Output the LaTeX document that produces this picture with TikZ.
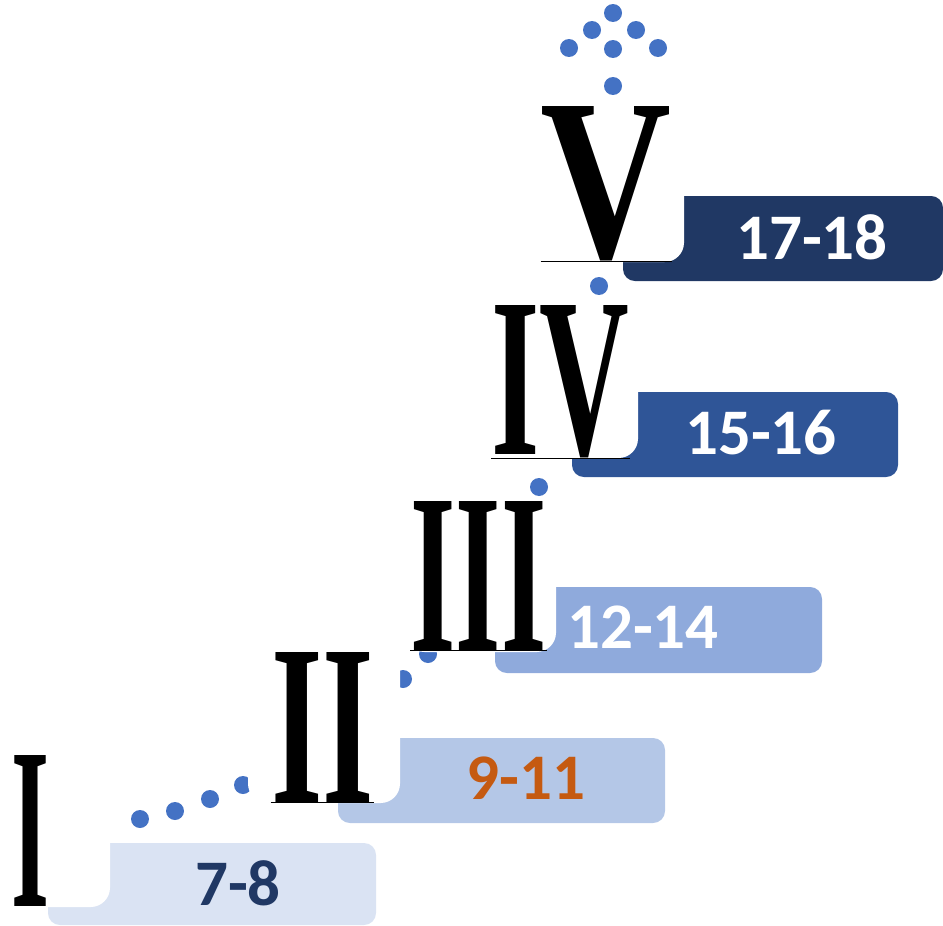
\documentclass[tikz,border=0pt]{standalone}
\usepackage{fontspec}
\newfontfamily\lblfont{Carlito}
\newfontfamily\numfont{Liberation Serif}
\definecolor{dotc}{HTML}{4472C4}
\definecolor{cA}{HTML}{DAE3F3}
\definecolor{cB}{HTML}{B4C7E7}
\definecolor{cC}{HTML}{8FAADC}
\definecolor{cD}{HTML}{2F5597}
\definecolor{cE}{HTML}{203864}
\definecolor{orangeT}{HTML}{C55A11}
\begin{document}
\begin{tikzpicture}[x=0.02cm,y=-0.02cm,
  labelbox/.style={rounded corners=6.8pt},
  backing/.style={fill=white, rounded corners=11pt},
  dotn/.style={circle, fill=dotc, inner sep=0pt, minimum size=0.36cm},
  lbl/.style={inner sep=0pt, font=\lblfont\bfseries\fontsize{37}{40}\selectfont},
  numeral/.style={inner sep=0pt, font=\numfont\bfseries},
  baseline rule/.style={line width=0.6pt}]
\useasboundingbox (0,0) rectangle (943,926);
% label boxes
\fill[labelbox, cA] (48,843) rectangle (376,925);
\fill[labelbox, cB] (338,738) rectangle (665,823);
\fill[labelbox, cC] (495,587) rectangle (822,673);
\fill[labelbox, cD] (572,392) rectangle (898,477);
\fill[labelbox, cE] (623,196) rectangle (943,281);
% dots
\node[dotn] (d1) at (140,819) {};
\node[dotn] (d2) at (175,811) {};
\node[dotn] (d3) at (210,799) {};
\node[dotn] (d4) at (243,785) {};
\node[dotn] (d5) at (403,679) {};
\node[dotn] (d6) at (428,654) {};
\node[dotn] (d7) at (539,487) {};
\node[dotn] (d8) at (599,286) {};
\node[dotn] (d9) at (613,86) {};
\node[dotn] (d10) at (613,49) {};
\node[dotn] (d11) at (569,48) {};
\node[dotn] (d12) at (658,48) {};
\node[dotn] (d13) at (592,30) {};
\node[dotn] (d14) at (636,30) {};
\node[dotn] (d15) at (613,13) {};
% white backings of numerals
\fill[backing] (5,745) rectangle (110,907);
\fill[backing] (248,645) rectangle (400,803);
\fill[backing] (405,497) rectangle (556,652);
\fill[backing] (488,300) rectangle (638,458);
\fill[backing] (536,100) rectangle (684,262);
% numerals
\node[numeral] (nI) at (30.5,830.5) {\resizebox{0.76cm}{3.02cm}{I}};
\node[numeral] (nII) at (322.5,727) {\resizebox{2.06cm}{3.0cm}{II}};
\node[numeral] (nIII) at (478.5,575.5) {\resizebox{2.72cm}{2.98cm}{III}};
\node[numeral] (nIV) at (560.5,381.5) {\resizebox{2.76cm}{2.98cm}{IV}};
\node[numeral] (nV) at (606.5,183.5) {\resizebox{2.62cm}{3.02cm}{V}};
\draw[baseline rule] (nII.south west) -- (nII.south east);
\draw[baseline rule] (nIII.south west) -- (nIII.south east);
\draw[baseline rule] (nIV.south west) -- (nIV.south east);
\draw[baseline rule] (nV.south west) -- (nV.south east);
% labels
\node[lbl, text=cE] (t1) at (238,883) {7-8};
\node[lbl, text=orangeT] (t2) at (526,778) {9-11};
\node[lbl, text=white] (t3) at (643,627) {12-14};
\node[lbl, text=white] (t4) at (761,433) {15-16};
\node[lbl, text=white] (t5) at (812,237) {17-18};
\end{tikzpicture}
\end{document}
